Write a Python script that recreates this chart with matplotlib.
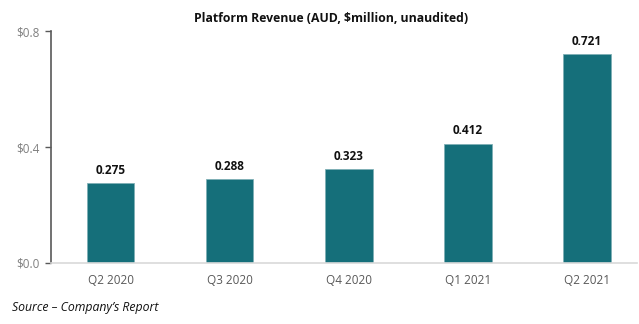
import matplotlib
matplotlib.use("Agg")
import matplotlib.pyplot as plt

categories = ["Q2 2020", "Q3 2020", "Q4 2020", "Q1 2021", "Q2 2021"]
revenue = [0.275, 0.288, 0.323, 0.412, 0.721]
yticks = [0.0, 0.4, 0.8]
ytick_labels = ["$0.0", "$0.4", "$0.8"]

plt.rcParams['font.family'] = ['Open Sans', 'DejaVu Sans']

fig = plt.figure(figsize=(6.39, 3.24), dpi=100)
ax = fig.add_axes([51/639, 1-263/324, (637-51)/639, (263-31)/324])

x = list(range(len(categories)))
bars = ax.bar(x, revenue, width=0.4, color='#156f7a', edgecolor='#7fb0b6', linewidth=0.6)

for xi, v in zip(x, revenue):
    ax.annotate(f"{v:.3f}", (xi, v), xytext=(0, 4.5), textcoords='offset points',
                ha='center', va='bottom', fontsize=8.5, fontweight='bold', color='#111111')

ax.set_xlim(-0.5, 4.42)
ax.set_ylim(0, 0.8)
ax.set_xticks(x)
ax.set_xticklabels(categories, fontsize=8.5, color='#595959')
ax.set_yticks(yticks)
ax.set_yticklabels(ytick_labels, fontsize=8.5, color='#7f7f7f')
ax.tick_params(axis='x', length=0, pad=8)
ax.tick_params(axis='y', length=4.5, width=1, color='#595959', pad=4)

for s in ['top', 'right']:
    ax.spines[s].set_visible(False)
ax.spines['left'].set_color('#595959')
ax.spines['left'].set_linewidth(1.2)
ax.spines['bottom'].set_color('#d9d9d9')
ax.spines['bottom'].set_linewidth(1.2)

fig.text(331/639, 1-18/324, "Platform Revenue (AUD, $million, unaudited)", ha='center', va='center',
         fontsize=8.8, fontweight='bold', color='#111111')
fig.text(12/639, 1-308/324, "Source \u2013 Company\u2019s Report", ha='left', va='center',
         fontsize=8.8, style='italic', color='#111111')

fig.savefig("out.png", dpi=100)
